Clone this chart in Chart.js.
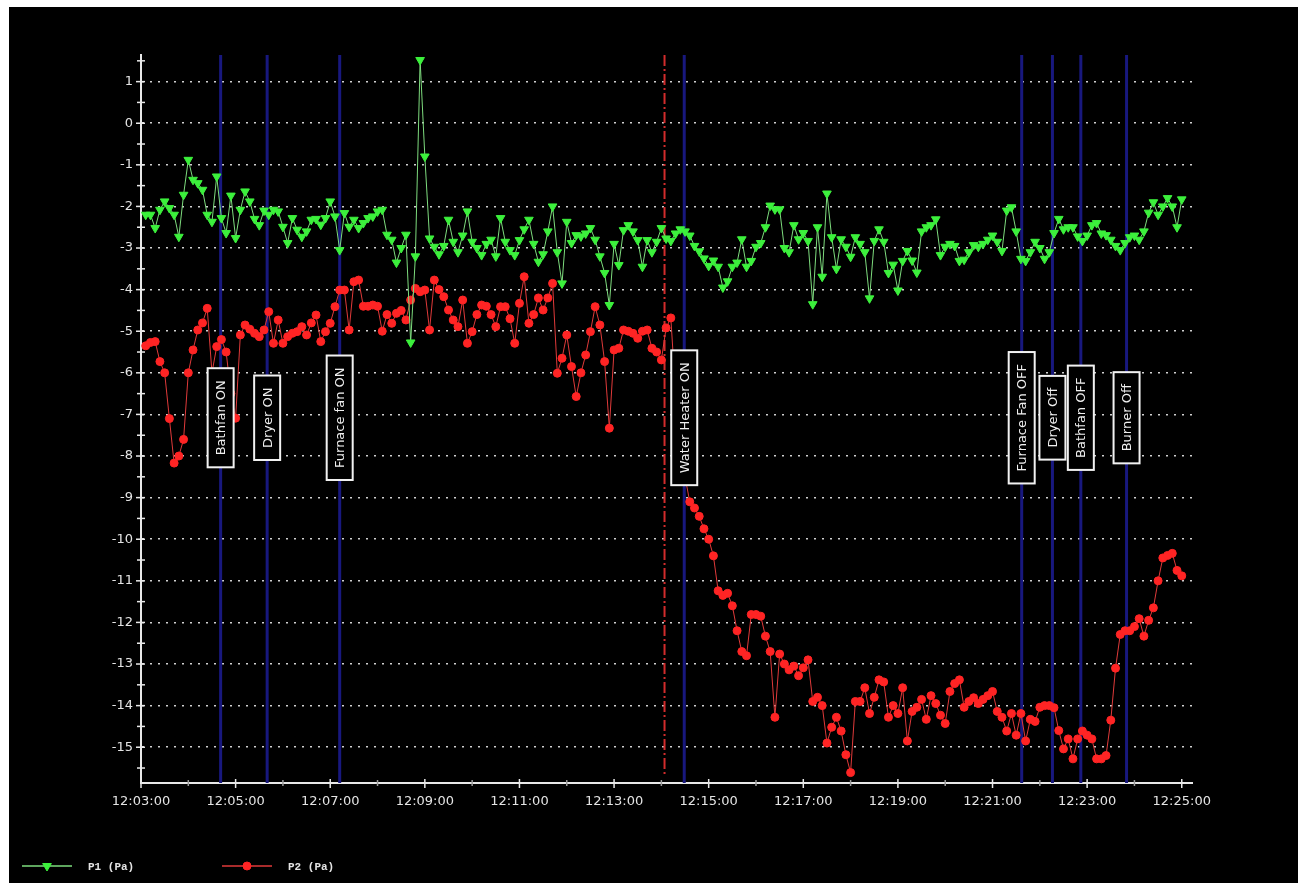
<!DOCTYPE html>
<html><head><meta charset="utf-8">
<script src="https://cdn.jsdelivr.net/npm/chart.js@4.4.1/dist/chart.umd.min.js"></script>
<style>
html,body{margin:0;padding:0;background:#fff;width:1298px;height:883px;overflow:hidden}
#wrap{position:absolute;left:9px;top:7px;width:1289px;height:876px;background:#000}
canvas{display:block}
</style></head><body>
<div id="wrap"><canvas id="c" width="1289" height="876"></canvas></div>
<script>
// ---- data ----
const START_SECONDS = 12*3600 + 3*60;      // 12:03:00
const SAMPLE_SECONDS = 6;                   // sample spacing
const X_MIN = 0, X_MAX = 1333;              // seconds after 12:03:00
const X_MAJOR_TICKS = [0,120,240,360,480,600,720,840,960,1080,1200,1320];
const X_MINOR_TICKS = [60,180,300,420,540,660,780,900,1020,1140,1260];
const Y_MIN = -15.86, Y_MAX = 1.64;
const Y_TICKS = [1,0,-1,-2,-3,-4,-5,-6,-7,-8,-9,-10,-11,-12,-13,-14,-15];
const Y_MINOR_TICKS = [1.5,0.5,-0.5,-1.5,-2.5,-3.5,-4.5,-5.5,-6.5,-7.5,-8.5,-9.5,-10.5,-11.5,-12.5,-13.5,-14.5,-15.5];

const SERIES_NAMES = ['P1 (Pa)', 'P2 (Pa)'];
const P1 = [
-2.2,-2.2,-2.52,-2.08,-1.88,-2.04,-2.2,-2.73,-1.72,-0.88,
-1.36,-1.44,-1.6,-2.2,-2.37,-1.28,-2.28,-2.64,-1.74,-2.76,
-2.08,-1.64,-1.88,-2.3,-2.45,-2.1,-2.2,-2.08,-2.12,-2.49,
-2.88,-2.28,-2.56,-2.73,-2.6,-2.32,-2.3,-2.44,-2.28,-1.88,
-2.24,-3.05,-2.16,-2.49,-2.32,-2.52,-2.4,-2.28,-2.24,-2.12,
-2.08,-2.68,-2.8,-3.35,-3.0,-2.68,-5.27,-3.2,1.52,-0.8,
-2.77,-2.97,-3.15,-2.95,-2.32,-2.85,-3.1,-2.7,-2.12,-2.85,
-3.0,-3.17,-2.9,-2.8,-3.2,-2.28,-2.85,-3.05,-3.17,-2.81,
-2.55,-2.32,-2.9,-3.33,-3.15,-2.6,-2.0,-3.1,-3.85,-2.37,
-2.88,-2.69,-2.72,-2.65,-2.52,-2.8,-3.2,-3.6,-4.37,-2.9,
-3.41,-2.57,-2.45,-2.6,-2.81,-3.45,-2.81,-3.1,-2.85,-2.52,
-2.77,-2.83,-2.65,-2.55,-2.6,-2.7,-2.95,-3.08,-3.25,-3.43,
-3.3,-3.45,-3.95,-3.8,-3.45,-3.35,-2.79,-3.45,-3.31,-2.97,
-2.88,-2.5,-1.98,-2.07,-2.07,-3.0,-3.1,-2.45,-2.79,-2.64,
-2.83,-4.35,-2.5,-3.69,-1.69,-2.74,-3.5,-2.79,-2.97,-3.21,
-2.74,-2.9,-3.1,-4.21,-2.83,-2.55,-2.85,-3.6,-3.4,-4.02,
-3.31,-3.07,-3.3,-3.59,-2.6,-2.5,-2.45,-2.31,-3.17,-2.97,
-2.9,-2.95,-3.31,-3.28,-3.1,-2.93,-2.97,-2.9,-2.8,-2.7,
-2.85,-3.07,-2.1,-2.02,-2.6,-3.26,-3.31,-3.1,-2.85,-3.0,
-3.26,-3.1,-2.64,-2.3,-2.55,-2.5,-2.5,-2.72,-2.83,-2.7,
-2.45,-2.4,-2.65,-2.69,-2.8,-2.95,-3.05,-2.88,-2.74,-2.7,
-2.8,-2.6,-2.15,-1.9,-2.2,-2.0,-1.8,-2.0,-2.5,-1.83
];
const P2 = [
-5.35,-5.27,-5.25,-5.73,-6.0,-7.1,-8.17,-8.0,-7.6,-6.0,
-5.45,-4.97,-4.8,-4.45,-6.0,-5.37,-5.2,-5.5,-6.5,-7.09,
-5.09,-4.85,-4.95,-5.05,-5.13,-4.97,-4.53,-5.29,-4.73,-5.29,
-5.13,-5.05,-5.01,-4.89,-5.09,-4.8,-4.61,-5.25,-5.01,-4.81,
-4.41,-4.01,-4.01,-4.97,-3.81,-3.77,-4.4,-4.4,-4.37,-4.4,
-5.0,-4.6,-4.81,-4.57,-4.5,-4.73,-4.25,-3.97,-4.05,-4.01,
-4.97,-3.77,-4.0,-4.17,-4.49,-4.73,-4.89,-4.25,-5.29,-5.01,
-4.6,-4.37,-4.4,-4.6,-4.89,-4.41,-4.41,-4.7,-5.29,-4.33,
-3.69,-4.81,-4.6,-4.2,-4.49,-4.2,-3.85,-6.01,-5.65,-5.09,
-5.85,-6.57,-6.0,-5.57,-5.01,-4.41,-4.85,-5.73,-7.33,-5.45,
-5.41,-4.97,-5.0,-5.05,-5.17,-5.0,-4.97,-5.41,-5.5,-5.69,
-4.92,-4.68,-6.5,-7.7,-8.5,-9.1,-9.25,-9.45,-9.75,-10.0,
-10.4,-11.24,-11.35,-11.3,-11.6,-12.2,-12.7,-12.8,-11.81,-11.81,
-11.85,-12.33,-12.7,-14.28,-12.76,-13.0,-13.14,-13.05,-13.28,-13.09,
-12.9,-13.9,-13.8,-14.0,-14.9,-14.52,-14.28,-14.61,-15.18,-15.61,
-13.9,-13.9,-13.57,-14.19,-13.8,-13.38,-13.43,-14.28,-14.0,-14.19,
-13.57,-14.85,-14.14,-14.04,-13.85,-14.33,-13.76,-13.95,-14.23,-14.43,
-13.66,-13.47,-13.38,-14.04,-13.9,-13.81,-13.95,-13.85,-13.76,-13.66,
-14.14,-14.28,-14.61,-14.19,-14.71,-14.19,-14.85,-14.33,-14.38,-14.04,
-14.0,-14.0,-14.05,-14.6,-15.04,-14.8,-15.28,-14.8,-14.61,-14.71,
-14.8,-15.28,-15.28,-15.2,-14.35,-13.1,-12.29,-12.2,-12.2,-12.1,
-11.91,-12.33,-11.95,-11.65,-11.0,-10.45,-10.39,-10.34,-10.75,-10.88
];

// event markers (seconds after 12:03:00)
const EVENT_LABELS  = ['Bathfan ON','Dryer ON','Furnace fan ON','Water Heater ON','Furnace Fan OFF','Dryer Off','Bathfan OFF','Burner Off'];
const EVENT_SECONDS = [101, 160, 252, 689, 1117, 1156, 1192, 1250];
const DASH_MARK_SECONDS = 664;
const EVENT_LABEL_VALUE = -7.08;

// ---- helpers ----
function fmtTime(sec){
  const t = START_SECONDS + sec;
  const h = Math.floor(t/3600), m = Math.floor((t%3600)/60), s = Math.round(t%60);
  return h + ':' + String(m).padStart(2,'0') + ':' + String(s).padStart(2,'0');
}
const toPoints = arr => arr.map((v,i) => ({x:(i+1)*SAMPLE_SECONDS, y:v}));

const TEXT = '#e4e4e4';
const AXIS = '#e8e8e8';

const overlay = {
  id:'overlay',
  beforeDatasetsDraw(chart){
    const {ctx, chartArea:a, scales:{x}} = chart;
    ctx.save();
    ctx.strokeStyle = '#18187e'; ctx.lineWidth = 3;
    EVENT_SECONDS.forEach(t => {
      const px = x.getPixelForValue(t);
      ctx.beginPath(); ctx.moveTo(px, a.top); ctx.lineTo(px, a.bottom); ctx.stroke();
    });
    ctx.strokeStyle = '#d22c2c'; ctx.lineWidth = 2; ctx.setLineDash([11,3,2,3]);
    const dx = x.getPixelForValue(DASH_MARK_SECONDS);
    ctx.beginPath(); ctx.moveTo(dx, a.top); ctx.lineTo(dx, a.bottom - 8); ctx.stroke();
    ctx.restore();
  },
  afterDatasetsDraw(chart){
    const {ctx, scales:{x,y}} = chart;
    ctx.save();
    ctx.font = '13px "DejaVu Sans"';
    ctx.textAlign = 'center'; ctx.textBaseline = 'middle';
    EVENT_LABELS.forEach((lab, i) => {
      const px = x.getPixelForValue(EVENT_SECONDS[i]);
      const py = y.getPixelForValue(EVENT_LABEL_VALUE);
      const L = ctx.measureText(lab).width + 24, T = 26;
      ctx.save();
      ctx.translate(px, py); ctx.rotate(-Math.PI/2);
      ctx.fillStyle = '#000'; ctx.fillRect(-L/2, -T/2, L, T);
      ctx.strokeStyle = '#f2f2f2'; ctx.lineWidth = 2; ctx.strokeRect(-L/2, -T/2, L, T);
      ctx.fillStyle = '#f0f0f0'; ctx.fillText(lab, 0, 1);
      ctx.restore();
    });
    ctx.restore();
  },
  afterDraw(chart){
    const {ctx, chartArea:a, scales:{x,y}} = chart;
    ctx.save();
    ctx.strokeStyle = AXIS; ctx.lineWidth = 1.5;
    Y_TICKS.forEach(v => { const py = y.getPixelForValue(v); ctx.beginPath(); ctx.moveTo(a.left-5, py); ctx.lineTo(a.left+4, py); ctx.stroke(); });
    Y_MINOR_TICKS.forEach(v => { const py = y.getPixelForValue(v); ctx.beginPath(); ctx.moveTo(a.left-4, py); ctx.lineTo(a.left+4, py); ctx.stroke(); });
    X_MAJOR_TICKS.forEach(v => { const px = x.getPixelForValue(v); ctx.beginPath(); ctx.moveTo(px, a.bottom-4); ctx.lineTo(px, a.bottom+5); ctx.stroke(); });
    ctx.strokeStyle = '#9a9a9a';
    X_MINOR_TICKS.forEach(v => { const px = x.getPixelForValue(v); ctx.beginPath(); ctx.moveTo(px, a.bottom-3); ctx.lineTo(px, a.bottom+3); ctx.stroke(); });
    // legend
    chart.data.datasets.forEach((d, i) => {
      const x0 = 13 + i*200, y0 = 859;
      ctx.strokeStyle = d.borderColor; ctx.lineWidth = 1.5;
      ctx.beginPath(); ctx.moveTo(x0, y0); ctx.lineTo(x0+50, y0); ctx.stroke();
      ctx.fillStyle = d.pointBackgroundColor; ctx.strokeStyle = d.pointBorderColor; ctx.lineWidth = 1;
      Chart.helpers.drawPoint(ctx, {pointStyle:d.pointStyle, rotation:d.rotation||0, radius:d.pointRadius, borderWidth:1}, x0+25, y0);
      ctx.fillStyle = TEXT; ctx.font = 'bold 11px "Liberation Mono"';
      ctx.textAlign = 'left'; ctx.textBaseline = 'middle';
      ctx.fillText(d.label, x0+66, y0+1);
    });
    ctx.restore();
  }
};

new Chart(document.getElementById('c'), {
  type:'line',
  data:{ datasets:[
    { label:SERIES_NAMES[0], data:toPoints(P1), borderColor:'#7edc7e', borderWidth:1,
      pointStyle:'triangle', rotation:180, pointRadius:5, pointBackgroundColor:'#3cf03c',
      pointBorderColor:'#3cf03c', pointBorderWidth:1, tension:0 },
    { label:SERIES_NAMES[1], data:toPoints(P2), borderColor:'#e03a3a', borderWidth:1,
      pointStyle:'circle', pointRadius:4, pointBackgroundColor:'#ff2424',
      pointBorderColor:'#ff2424', pointBorderWidth:1, tension:0 }
  ]},
  options:{
    responsive:false, animation:false, events:[],
    layout:{ padding:{ left:0, top:48, right:106, bottom:0 } },
    plugins:{ legend:{display:false}, tooltip:{enabled:false} },
    scales:{
      x:{ type:'linear', min:X_MIN, max:X_MAX,
        afterBuildTicks: s => { s.ticks = X_MAJOR_TICKS.map(v => ({value:v})); },
        afterFit: s => { s.height = 100; },
        grid:{ display:false, drawTicks:false },
        border:{ display:true, color:AXIS, width:2 },
        ticks:{ color:TEXT, font:{family:'DejaVu Sans', size:13}, padding:11, maxRotation:0, autoSkip:false,
                callback: v => fmtTime(v) } },
      y:{ type:'linear', min:Y_MIN, max:Y_MAX,
        afterBuildTicks: s => { s.ticks = Y_TICKS.map(v => ({value:v})); },
        afterFit: s => { s.width = 132; },
        grid:{ color:'#d0d0d0', lineWidth:1.5, drawTicks:false },
        border:{ display:true, color:AXIS, width:2, dash:[2,6] },
        ticks:{ color:TEXT, font:{family:'DejaVu Sans', size:13}, padding:8, autoSkip:false,
                callback: v => String(v) } }
    }
  },
  plugins:[overlay]
});
</script>
</body></html>
